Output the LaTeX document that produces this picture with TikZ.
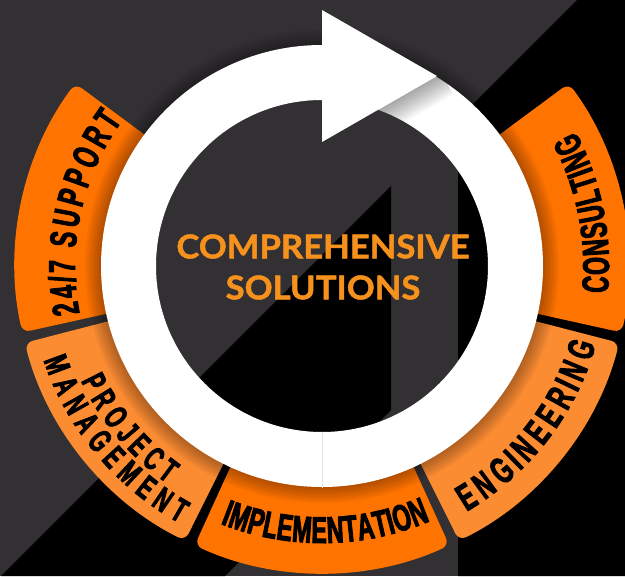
\documentclass[tikz,border=0pt]{standalone}
\usepackage{fontspec}
\usetikzlibrary{decorations.text}

\newfontfamily\segfont[FakeStretch=0.62,FakeBold=2.5]{Liberation Sans}
\newfontfamily\titlefont[FakeStretch=1.06,FakeBold=1.5]{Lato}
\newcommand\seglabelfont[1]{\segfont\bfseries\fontsize{#1}{#1}\selectfont}

\definecolor{bgdark}{RGB}{50,48,50}
\definecolor{segorange}{RGB}{255,115,0}
\definecolor{seglight}{RGB}{251,140,50}
\definecolor{titleorange}{RGB}{246,145,30}

\tikzset{
  segment/.style={fill=#1, rounded corners=6},
  seglabel/.style 2 args={decorate, decoration={text effects along path, text={#1},
      text effects/.cd, text along path, fit text to path, characters={font=\seglabelfont{#2}, text=black}}},
  title/.style={text=titleorange, align=center, font=\titlefont\bfseries\fontsize{24.5}{30.75}\selectfont},
}

\begin{document}
\begin{tikzpicture}[x=0.75pt, y=0.75pt]
\useasboundingbox (0,0) rectangle (625,576);
% background
\fill[bgdark] (0,0) rectangle (625,576);
\fill[black] (1,0) -- (391,390) -- (391,166) -- (225,0) -- cycle;
\fill[black] (458,0) -- (458,457) -- (577,576) -- (625,576) -- (625,0) -- cycle;

\coordinate (C) at (322,310);

\begin{scope}[shift={(C)}]
  % the five segments
  \fill[segment=segorange] (143.5:200) -- (143.5:307) arc[start angle=143.5, end angle=192.5, radius=307] -- (192.5:200) -- cycle;
  \fill[segment=seglight]  (194.5:200) -- (194.5:307) arc[start angle=194.5, end angle=243.5, radius=307] -- (243.5:200) -- cycle;
  \fill[segment=segorange] (245.5:200) -- (245.5:307) arc[start angle=245.5, end angle=294.5, radius=307] -- (294.5:200) -- cycle;
  \fill[segment=seglight]  (296.5:200) -- (296.5:307) arc[start angle=296.5, end angle=345.5, radius=307] -- (345.5:200) -- cycle;
  \fill[segment=segorange] (347.5:200) -- (347.5:307) arc[start angle=347.5, end angle=396.5, radius=307] -- (396.5:200) -- cycle;

  % labels
  \path[seglabel={24/7 SUPPORT}{28}] (191:247) arc[start angle=191, end angle=144, radius=247];
  \path[seglabel={PROJECT}{25}] (205.5:267) arc[start angle=205.5, end angle=234.5, radius=267];
  \path[seglabel={MANAGEMENT}{25}] (198.7:294) arc[start angle=198.7, end angle=241, radius=294];
  \path[seglabel={IMPLEMENTATION}{28}] (248.5:277) arc[start angle=248.5, end angle=293, radius=277];
  \path[seglabel={ENGINEERING}{28}] (300.5:285) arc[start angle=300.5, end angle=344, radius=285];
  \path[seglabel={CONSULTING}{28}] (-5.5:287) arc[start angle=-5.5, end angle=28, radius=287];

  % shadow of the ring
  \foreach \r in {223,225,...,237}
    \fill[black, opacity=0.04, even odd rule] (0,0) circle[radius=\r] (0,0) circle[radius=215];
  % ring
  \fill[white, even odd rule] (0,0) circle[radius=221] (0,0) circle[radius=166];
\end{scope}

% shadow of the arrow head
\begin{scope}[even odd rule]
  \clip (C) circle[radius=221] (C) circle[radius=166];
  \begin{scope}[shift={(437,500)}, rotate=29.85]
    \foreach \d in {2,4,...,24}
      \fill[black, opacity=0.03] (-80,0) rectangle (5,-\d);
  \end{scope}
\end{scope}
\fill[white] (322,566) -- (437,500) -- (322,434) -- cycle;
\draw[gray!20, line width=0.4] (322,144) -- (322,88);

\node[title] (title) at (323,309) {COMPREHENSIVE\\SOLUTIONS};
\end{tikzpicture}
\end{document}
